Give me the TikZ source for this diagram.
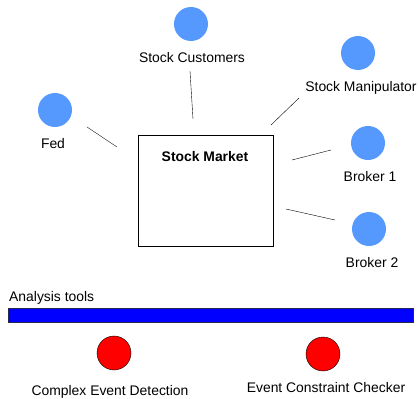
\documentclass[tikz,border=0pt]{standalone}
\usepackage{fontspec}
\setmainfont{Liberation Sans}
\usetikzlibrary{positioning}

\begin{document}
\begin{tikzpicture}[x=1pt,y=-1pt,font=\fontsize{13.9}{16}\selectfont,
  actor/.style={circle,fill={rgb,255:red,85;green,153;blue,255},minimum size=34pt,inner sep=0pt},
  tool/.style={circle,fill=red,draw=black,minimum size=34pt,inner sep=0pt},
  lbl/.style={inner sep=0pt}] %
    \useasboundingbox (0,0) rectangle (418,399); %
    \node[draw,minimum width=135pt,minimum height=111pt] (market) at (205.5,190.5) {}; %
    \node[lbl,font=\fontsize{13.9}{16}\selectfont\bfseries] (marketlbl) at (205,157) {Stock Market}; %
    \node[actor] (cust) at (191,24) {}; %
    \node[lbl] (custlbl) at (192,58) {Stock Customers}; %
    \node[actor] (manip) at (358,53) {}; %
    \node[lbl] (maniplbl) at (361,88) {Stock Manipulator}; %
    \node[actor] (fed) at (55,110) {}; %
    \node[lbl] (fedlbl) at (53,144) {Fed}; %
    \node[actor] (brokerA) at (368,143) {}; %
    \node[lbl] (brokerAlbl) at (370,177) {Broker 1}; %
    \node[actor] (brokerB) at (369,229) {}; %
    \node[lbl] (brokerBlbl) at (372,263) {Broker 2}; %
    \node[lbl,anchor=west] (tools) at (9,298) {Analysis tools}; %
    \node[draw={rgb,255:red,40;green,40;blue,80},fill=blue,minimum width=405pt,minimum height=14pt,inner sep=0pt] (bar) at (210.5,315) {}; %
    \node[tool] (ced) at (114,353) {}; %
    \node[lbl] (cedlbl) at (110,392) {Complex Event Detection}; %
    \node[tool] (ecc) at (323,354) {}; %
    \node[lbl] (ecclbl) at (326,388) {Event Constraint Checker}; %
    % loose connector ends
    \coordinate (c1) at (190,71); \coordinate (c2) at (193,119); %
    \coordinate (m1) at (299,98); \coordinate (m2) at (271,125); %
    \coordinate (f1) at (87,127); \coordinate (f2) at (117,147); %
    \coordinate (b1) at (331,150); \coordinate (b2) at (292,160); %
    \coordinate (d1) at (335,220); \coordinate (d2) at (286,209); %
    \draw (c1) -- (c2); %
    \draw (m1) -- (m2); %
    \draw (f1) -- (f2); %
    \draw (b1) -- (b2); %
    \draw (d1) -- (d2); %
\end{tikzpicture}
\end{document}
